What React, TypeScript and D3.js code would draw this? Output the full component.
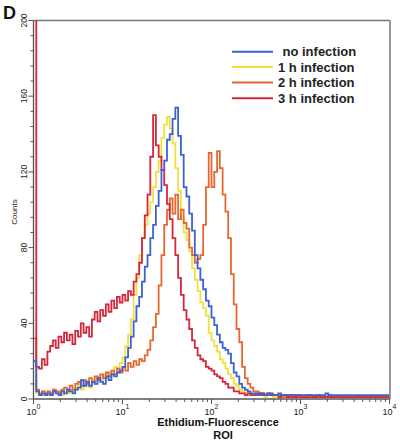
import React from 'react';
import * as d3 from 'd3';

// Flow-cytometry histogram: 128 log channels spanning 10^0 .. 10^4 (32 per decade)
const seriesNames = ['no infection', '1 h infection', '2 h infection', '3 h infection'];
const seriesColors = ['#3b62d2', '#f3e03c', '#e8672e', '#d6263c'];

const noInfection = [
  20, 4, 2, 3, 2, 3, 2, 4, 3, 2,
  4, 3, 5, 4, 3, 5, 6, 10, 7, 9,
  7, 9, 8, 11, 9, 8, 12, 10, 13, 12,
  14, 15, 17, 22, 27, 33, 41, 49, 54, 62,
  70, 76, 85, 92, 102, 110, 121, 126, 137, 140,
  148, 154, 139, 129, 112, 107, 98, 89, 76, 69,
  63, 58, 52, 49, 43, 39, 34, 30, 27, 26,
  24, 19, 14, 12, 8, 6, 5, 4, 3, 3,
  2, 3, 2, 2, 3, 2, 2, 2, 3, 2,
  2, 2, 2, 2, 2, 2, 2, 2, 2, 2,
  2, 2, 2, 2, 2, 3, 2, 2, 2, 2,
  2, 2, 2, 2, 2, 2, 2, 2, 2, 2,
  2, 2, 2, 2, 2, 2, 2, 2,
];

const oneHour = [
  8, 3, 2, 4, 3, 2, 3, 5, 3, 4,
  2, 4, 3, 5, 4, 6, 8, 5, 7, 9,
  6, 10, 8, 12, 10, 13, 11, 14, 13, 17,
  16, 19, 22, 28, 34, 42, 55, 64, 76, 85,
  92, 98, 104, 112, 120, 126, 138, 145, 149, 143,
  135, 122, 110, 95, 88, 84, 78, 69, 63, 57,
  51, 48, 44, 35, 31, 28, 25, 21, 19, 16,
  13, 11, 8, 7, 5, 4, 3, 3, 2, 2,
  2, 2, 2, 1, 2, 2, 1, 2, 2, 1,
  1, 2, 1, 1, 1, 2, 1, 1, 1, 1,
  1, 1, 1, 1, 1, 1, 1, 1, 1, 1,
  1, 1, 1, 1, 1, 1, 1, 1, 1, 1,
  1, 1, 1, 1, 1, 1, 1, 1,
];

const twoHour = [
  32, 5, 3, 4, 3, 4, 3, 5, 4, 3,
  5, 6, 4, 7, 5, 8, 9, 7, 10, 8,
  11, 9, 12, 10, 13, 11, 14, 12, 15, 13,
  16, 14, 17, 15, 19, 17, 20, 18, 21, 20,
  23, 26, 31, 38, 45, 60, 76, 92, 100, 106,
  98, 108, 95, 100, 93, 90, 80, 76, 72, 74,
  76, 92, 112, 130, 112, 120, 131, 122, 108, 99,
  85, 66, 50, 37, 30, 17, 11, 8, 6, 4,
  4, 3, 3, 2, 3, 2, 2, 2, 2, 1,
  2, 1, 1, 2, 1, 1, 1, 1, 2, 1,
  1, 1, 1, 1, 1, 1, 2, 1, 1, 1,
  1, 1, 1, 1, 1, 1, 1, 1, 1, 1,
  1, 1, 1, 1, 1, 1, 1, 1,
];

const threeHour = [
  210, 17, 16, 21, 18, 25, 28, 31, 27, 33,
  30, 35, 31, 34, 29, 36, 33, 40, 35, 38,
  33, 42, 46, 41, 47, 44, 50, 46, 52, 48,
  54, 51, 55, 52, 57, 55, 62, 66, 72, 85,
  97, 108, 128, 150, 134, 128, 121, 113, 103, 95,
  85, 76, 64, 55, 47, 42, 37, 31, 27, 23,
  21, 20, 17, 16, 15, 13, 12, 11, 9, 8,
  6, 6, 4, 4, 3, 3, 2, 3, 2, 2,
  3, 2, 3, 2, 2, 3, 2, 2, 1, 2,
  2, 1, 2, 1, 1, 2, 1, 1, 1, 2,
  1, 1, 2, 1, 1, 1, 1, 1, 1, 1,
  1, 1, 1, 1, 1, 1, 1, 1, 1, 1,
  1, 1, 1, 1, 1, 1, 1, 1,
];

const yTickLabels = [0, 40, 80, 120, 160, 200];
const xDecades = [0, 1, 2, 3, 4];
const drawOrder = [1, 2, 3, 0];

const CHANNELS_PER_DECADE = 32;

export default function App() {
  const W = 400;
  const H = 443;
  const x = d3.scaleLog().domain([1, 1e4]).range([33.5, 389.5]);
  const y = d3.scaleLinear().domain([0, 200]).range([399, 20.5]);

  const allSeries = [noInfection, oneHour, twoHour, threeHour];

  const line = d3
    .line<number>()
    .x((_, i) => x(Math.pow(10, i / CHANNELS_PER_DECADE)))
    .y((d) => y(d))
    .curve(d3.curveStepAfter);

  const pathFor = (vals: number[]) => line([...vals, vals[vals.length - 1]]) || '';

  const yTicks = d3.range(0, 201, 8);
  const xMinor: number[] = [];
  for (let d = 0; d < 4; d++) for (let k = 2; k <= 9; k++) xMinor.push(k * Math.pow(10, d));

  const font = 'Liberation Sans, Arial, Helvetica, sans-serif';
  const legendY = [51.7, 67, 82.5, 98.3];

  return (
    <svg
      width={W}
      height={H}
      viewBox={`0 0 ${W} ${H}`}
      style={{ position: 'absolute', left: 0, top: 0, background: '#fff' }}
      fontFamily={font}
    >
      <defs>
        <clipPath id="plotClip">
          <rect x={33.5} y={20.5} width={356} height={378.5} />
        </clipPath>
      </defs>
      <rect width={W} height={H} fill="#fff" />

      <text x={3} y={18.5} fontSize={18} fontWeight="bold" fill="#111">D</text>

      <line x1={33.5} x2={390} y1={20.5} y2={20.5} stroke="#777" strokeWidth={1.5} />
      <line x1={390} x2={390} y1={20.5} y2={399} stroke="#777" strokeWidth={1.5} />

      <g clipPath="url(#plotClip)">
        {drawOrder.map((si) => (
          <path
            key={si}
            d={pathFor(allSeries[si])}
            fill="none"
            stroke={seriesColors[si]}
            strokeWidth={1.8}
            strokeLinejoin="miter"
          />
        ))}
      </g>

      <line x1={33.5} x2={33.5} y1={20.5} y2={399} stroke="#555" strokeWidth={1.3} />
      {yTicks.map((t) => (
        <line
          key={t}
          x1={33.5}
          x2={t % 40 === 0 ? 28.5 : 30.5}
          y1={y(t)}
          y2={y(t)}
          stroke="#555"
          strokeWidth={1}
        />
      ))}
      {yTickLabels.map((t) => (
        <text
          key={t}
          transform={`translate(27,${y(t)}) rotate(-90)`}
          textAnchor="middle"
          fontSize={8.5}
          fill="#222"
        >
          {t}
        </text>
      ))}
      <text transform={`translate(16.5,212) rotate(-90)`} textAnchor="middle" fontSize={8} fill="#222">
        Counts
      </text>

      <line x1={33.5} x2={390} y1={399} y2={399} stroke="#555" strokeWidth={1.3} />
      {xMinor.map((v) => (
        <line key={v} x1={x(v)} x2={x(v)} y1={399} y2={402} stroke="#555" strokeWidth={1} />
      ))}
      {xDecades.map((d) => (
        <g key={d}>
          <line x1={x(Math.pow(10, d))} x2={x(Math.pow(10, d))} y1={399} y2={404} stroke="#555" strokeWidth={1} />
          <text x={x(Math.pow(10, d)) - 2} y={414.5} textAnchor="middle" fontSize={9} fill="#222">
            10
          </text>
          <text x={x(Math.pow(10, d)) + 3} y={408.5} textAnchor="start" fontSize={7} fill="#222">
            {d}
          </text>
        </g>
      ))}
      <text x={218} y={426} textAnchor="middle" fontSize={11} fontWeight="bold" fill="#111">
        Ethidium-Fluorescence
      </text>
      <text x={223} y={438.5} textAnchor="middle" fontSize={11} fontWeight="bold" fill="#111">
        ROI
      </text>

      {seriesNames.map((name, i) => (
        <g key={name}>
          <line x1={232} x2={273} y1={legendY[i]} y2={legendY[i]} stroke={seriesColors[i]} strokeWidth={2} />
          <text
            x={i === 0 ? 282.5 : 278}
            y={legendY[i] + 4.6}
            fontSize={13}
            fontWeight="bold"
            fill="#222"
          >
            {name}
          </text>
        </g>
      ))}
    </svg>
  );
}
